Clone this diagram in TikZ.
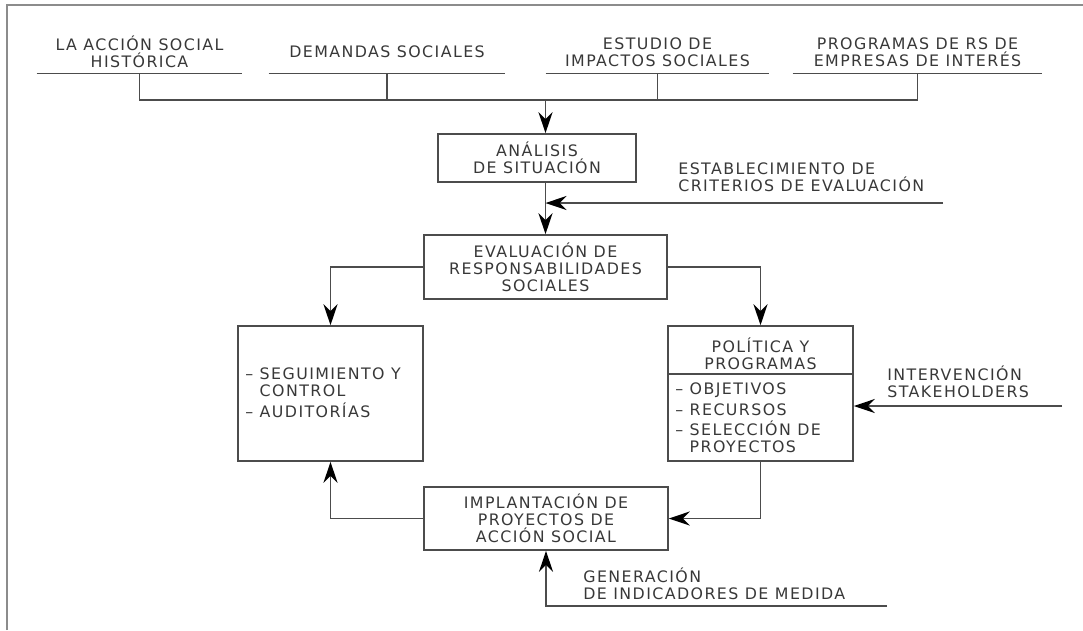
\documentclass[tikz,border=0pt]{standalone}
\usepackage{fontspec}
\setmainfont{DejaVu Sans}[LetterSpace=9.0]
\usetikzlibrary{arrows.meta,positioning}

\tikzset{
  txt/.style={text=black!78, font=\fontsize{9}{9.6}\selectfont, inner sep=0pt},
  wire/.style={draw=black!70, line width=0.9pt},
  arr/.style={wire, -{Stealth[length=12pt,width=8pt,inset=4pt,color=black]}},
  box/.style={txt, draw=black!70, line width=0.9pt, align=center},
  src/.style={txt, align=center, minimum height=0.84cm},
  frame/.style={draw=black!45, line width=1.2pt},
}

\begin{document}
\begin{tikzpicture}[x=0.02cm, y=-0.02cm]
\useasboundingbox (0,0) rectangle (1083,630);
\draw[frame] (7,630) -- (7,5) -- (1083,5);

% fuentes de informacion
\node[src, minimum width=4.1cm] (hist) at (139.5,52) {LA ACCIÓN SOCIAL\\HISTÓRICA};
\node[src, minimum width=4.72cm] (dema) at (387,52) {DEMANDAS SOCIALES};
\node[src, minimum width=4.46cm] (estu) at (657.5,52) {ESTUDIO DE\\IMPACTOS SOCIALES};
\node[src, minimum width=4.98cm] (prog) at (917.5,52) {PROGRAMAS DE RS DE\\EMPRESAS DE INTERÉS};
\foreach \n in {hist,dema,estu,prog}
  \draw[wire] (\n.south west) -- (\n.south east);
\coordinate (bus) at (0,100);
\draw[wire] (hist.south) |- (prog.south |- bus) -- (prog.south);
\draw[wire] (dema.south) -- (dema.south |- bus);
\draw[wire] (estu.south) -- (estu.south |- bus);

% cajas
\node[box, minimum width=3.96cm, minimum height=0.96cm] (anal) at (537,158) {ANÁLISIS\\DE SITUACIÓN};
\node[box, minimum width=4.86cm, minimum height=1.28cm] (eval) at (545.5,267) {EVALUACIÓN DE\\RESPONSABILIDADES\\SOCIALES};
\node[box, minimum width=3.7cm, minimum height=2.7cm] (segu) at (330.5,393.5) {};
\node[txt, anchor=west, align=left] (seguL) at (245,393) {– SEGUIMIENTO Y\\\phantom{– }CONTROL\\[2.5pt]– AUDITORÍAS};
\node[box, minimum width=3.7cm, minimum height=2.7cm] (poli) at (760.5,393.5) {};
\node[txt, align=center] (poliT) at (760.5,353.5) {POLÍTICA Y\\PROGRAMAS};
\coordinate (div) at (0,374);
\draw[wire] (poli.west |- div) -- (poli.east |- div);
\node[txt, anchor=west, align=left] (poliL) at (675,418) {– OBJETIVOS\\[2pt]– RECURSOS\\[2pt]– SELECCIÓN DE\\\phantom{– }PROYECTOS};
\node[box, minimum width=4.88cm, minimum height=1.26cm] (impl) at (546,518.5) {IMPLANTACIÓN DE\\PROYECTOS DE\\ACCIÓN SOCIAL};

% entradas laterales
\node[txt, anchor=west, align=left] (critL) at (678,177.5) {ESTABLECIMIENTO DE\\CRITERIOS DE EVALUACIÓN};
\coordinate (critE) at (943,203);
\node[txt, anchor=west, align=left] (stakL) at (887,381.5) {INTERVENCIÓN\\STAKEHOLDERS};
\coordinate (stakE) at (1062,406);
\node[txt, anchor=west, align=left] (indiL) at (583,583.5) {GENERACIÓN\\DE INDICADORES DE MEDIDA};
\coordinate (indiE) at (887,606);

% flechas
\draw[arr] (eval.north |- bus) -- (eval.north |- anal.north);
\draw[arr] (eval.north |- anal.south) -- (eval.north);
\draw[arr] (critE) -- (critE -| eval.north);
\draw[arr] (eval.west) -| (segu.north);
\draw[arr] (eval.east) -| (poli.north);
\draw[arr] (stakE) -- (poli.east |- stakE);
\draw[arr] (poli.south) |- (impl.east);
\draw[arr] (impl.west) -| (segu.south);
\draw[arr] (indiE) -| (impl.south);
\end{tikzpicture}
\end{document}
